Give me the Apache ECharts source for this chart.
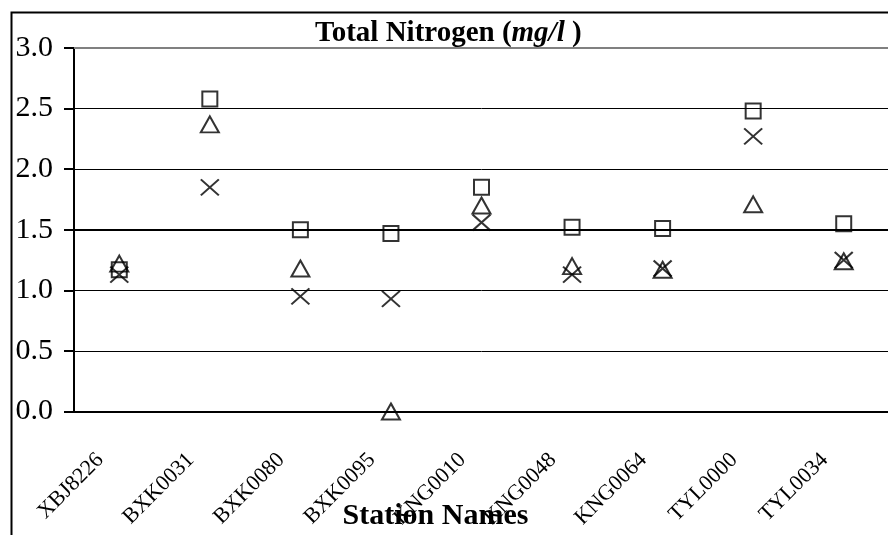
<!DOCTYPE html>
<html>
<head>
<meta charset="utf-8">
<title>Total Nitrogen</title>
<script src="https://cdn.jsdelivr.net/npm/echarts@6/dist/echarts.min.js"></script>
<style>
html, body { margin: 0; padding: 0; background: #fff; }
#main { width: 888px; height: 535px; }
</style>
</head>
<body>
<div id="main"></div>
<script>
// station names on the x axis
var stations = ['XBJ8226', 'BXK0031', 'BXK0080', 'BXK0095', 'KNG0010', 'KNG0048', 'KNG0064', 'TYL0000', 'TYL0034'];
// values, mg/l
var squareValues = [1.17, 2.58, 1.50, 1.47, 1.85, 1.52, 1.51, 2.48, 1.55];
var triangleValues = [1.22, 2.37, 1.18, 0.00, 1.70, 1.20, 1.17, 1.71, 1.24];
var crossValues = [1.13, 1.85, 0.95, 0.93, 1.56, 1.13, 1.18, 2.27, 1.25];
var yTicks = [0, 0.5, 1, 1.5, 2, 2.5, 3];

var serif = 'Liberation Serif';
var myChart = echarts.init(document.getElementById('main'), null, {renderer: 'canvas'});

function scatterSeries(name, data, symbol, size, extra)
{
	var s = {
		name: name,
		type: 'scatter',
		data: data,
		symbol: symbol,
		symbolSize: size,
		itemStyle: {
			color: 'transparent',
			borderColor: '#000',
			borderWidth: 2
		},
		emphasis: { disabled: true },
		z: 3
	};
	if (extra) {
		for (var k in extra) s[k] = extra[k];
	}
	return s;
}

var option = {
	backgroundColor: '#fff',
	animation: false,
	title: {
		text: '{b|Total Nitrogen (}{i|mg/l}{b| )}',
		left: 310,
		top: 14,
		textStyle: {
			rich: {
				b: { fontFamily: serif, fontWeight: 'bold', fontSize: 29, color: '#000' },
				i: { fontFamily: serif, fontWeight: 'bold', fontStyle: 'italic', fontSize: 29, color: '#000' }
			}
		}
	},
	graphic: [{
		type: 'rect',
		left: 9,
		top: 10,
		shape: { width: 900, height: 600 },
		style: { fill: 'none', stroke: '#000', lineWidth: 2 },
		silent: true
	}],
	grid: {
		left: 74,
		top: 48,
		width: 815,
		height: 363.5,
		containLabel: false,
		outerBoundsMode: 'none'
	},
	xAxis: {
		type: 'category',
		data: stations,
		name: 'Station Names',
		nameLocation: 'middle',
		nameGap: 90,
		nameMoveOverlap: false,
		nameTextStyle: {
			fontFamily: serif,
			fontWeight: 'bold',
			fontSize: 30,
			color: '#000',
			padding: [0, 92, 0, 0]
		},
		axisLine: { lineStyle: { color: '#000', width: 2 } },
		axisTick: { length: 8, lineStyle: { color: '#000', width: 2 } },
		axisLabel: {
			rotate: 45,
			interval: 0,
			margin: 26,
			padding: [0, 27, 0, 0],
			fontFamily: serif,
			fontSize: 22,
			color: '#000'
		},
		splitLine: { show: false }
	},
	yAxis: {
		type: 'value',
		min: yTicks[0],
		max: yTicks[yTicks.length - 1],
		interval: 0.5,
		axisLine: { show: true, lineStyle: { color: '#000', width: 2 } },
		axisTick: { show: true, length: 10, lineStyle: { color: '#000', width: 2 } },
		axisLabel: {
			margin: 21,
			fontFamily: serif,
			fontSize: 30,
			color: '#000',
			formatter: function (v) { return v.toFixed(1); }
		},
		splitLine: { show: true, lineStyle: { color: '#000', width: 1 } }
	},
	series: [
		scatterSeries('Series1', squareValues, 'rect', 15, {
			markLine: {
				silent: true,
				symbol: ['none', 'none'],
				label: { show: false },
				data: [
					{ yAxis: 3, lineStyle: { color: '#808080', width: 2, type: 'solid' } },
					{ yAxis: 1.5, lineStyle: { color: '#000', width: 2, type: 'solid' } }
				]
			}
		}),
		scatterSeries('Series2', triangleValues, 'triangle', [18, 16]),
		scatterSeries('Series3', crossValues, 'path://M0,0L10,10M0,10L10,0', [18, 16])
	]
};

myChart.setOption(option);
window.onresize = myChart.resize;
</script>
</body>
</html>
